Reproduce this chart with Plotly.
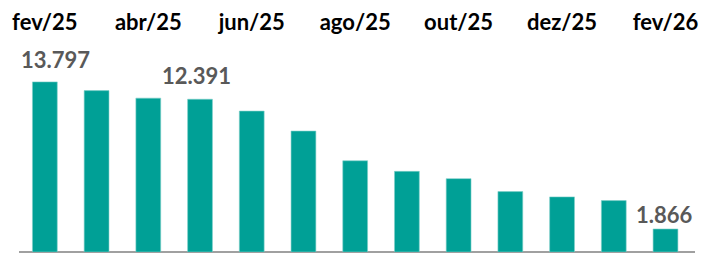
import plotly.graph_objects as go

months = ["fev/25", "mar/25", "abr/25", "mai/25", "jun/25", "jul/25", "ago/25",
          "set/25", "out/25", "nov/25", "dez/25", "jan/26", "fev/26"]
values = [13797, 13090, 12480, 12391, 11430, 9810, 7400, 6540, 5950, 4900, 4470, 4170, 1866]
tick_labels = months[::2]
labeled = [0, 3, 12]

# label offsets (pixels) — styling only
label_dx = {0: 11, 3: -4, 12: -1}
label_dy = {0: 22, 3: 24, 12: 14}

BAR = "#00A096"
FONT = "Lato"

fig = go.Figure()
fig.add_trace(go.Bar(
    x=months, y=values,
    marker=dict(color=BAR, line=dict(color="#7FD0CA", width=0.6)),
    hoverinfo="skip",
))

for i in labeled:
    fig.add_annotation(
        x=months[i], y=values[i], xref="x", yref="y",
        text=f"{values[i]:,}".replace(",", "."),
        showarrow=False, yanchor="middle", xanchor="center",
        xshift=label_dx[i], yshift=label_dy[i],
        font=dict(family=FONT, size=22, color="#595959", weight="bold"),
    )

fig.update_layout(
    width=709, height=254,
    margin=dict(l=19, r=14, t=40, b=1.5, autoexpand=False),
    paper_bgcolor="white", plot_bgcolor="white",
    bargap=0.52, showlegend=False,
)
fig.update_xaxes(
    side="top", tickmode="array", tickvals=tick_labels, ticktext=tick_labels,
    showgrid=False, showline=False, ticks="", automargin=False,
    ticklabelstandoff=5,
    tickfont=dict(family=FONT, size=22, color="#000000", weight="bold"),
)
fig.update_yaxes(
    range=[0, 17195], showgrid=False, showticklabels=False, automargin=False,
    zeroline=True, zerolinecolor="#A0A0A0", zerolinewidth=1.5,
)

fig.write_html(
    "out.html",
    config={"displayModeBar": False, "staticPlot": True},
    post_script="document.body.style.margin='0';document.body.style.overflow='hidden';",
)
